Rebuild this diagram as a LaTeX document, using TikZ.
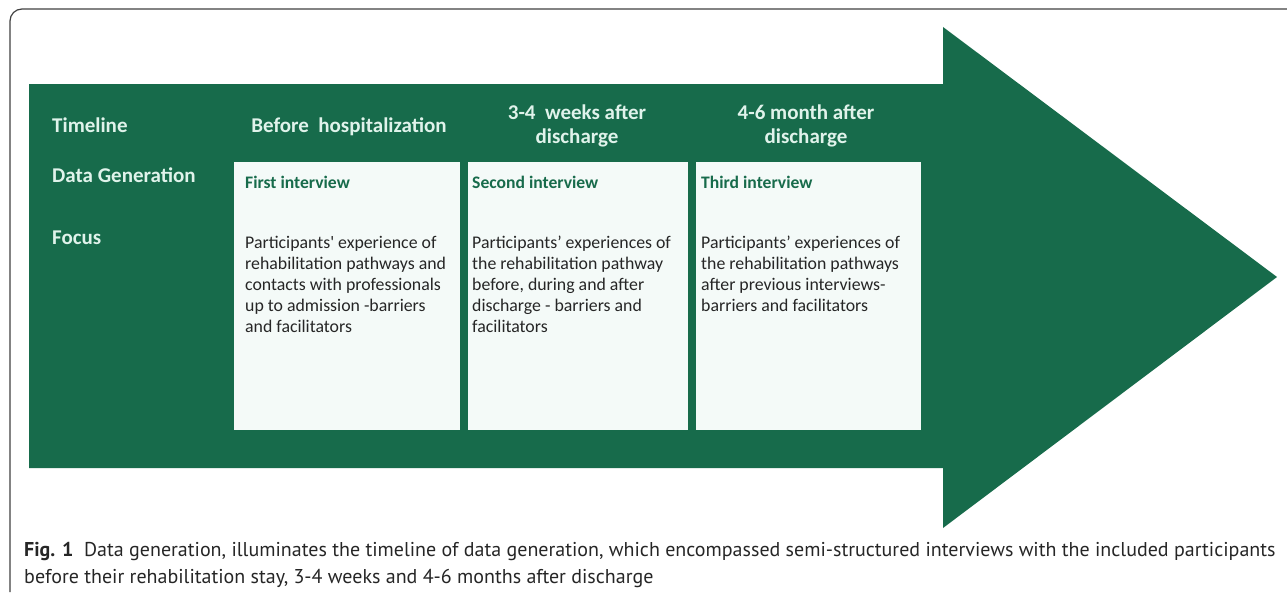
\documentclass[tikz,border=0pt]{standalone}
\usepackage{fontspec}
\setmainfont{Carlito}[Ligatures=TeXOff]
\newfontfamily\captionfont{PT Sans}
\definecolor{pathgreen}{RGB}{23,107,75}
\definecolor{boxfill}{RGB}{244,250,248}
\definecolor{labelmint}{RGB}{224,243,235}
\definecolor{bodygray}{RGB}{38,38,38}

\begin{document}
\begin{tikzpicture}[x=1pt,y=-1pt,
  rowlabel/.style={anchor=base west,inner sep=0pt,text=labelmint,font=\fontsize{21}{24}\selectfont\bfseries},
  colhead/.style={anchor=base,inner sep=0pt,align=center,text=labelmint,font=\fontsize{21}{24}\selectfont\bfseries},
  stagebox/.style={anchor=north west,fill=boxfill,draw=none,minimum width=#1,minimum height=268pt,inner sep=0pt},
  boxhead/.style={anchor=base west,inner sep=0pt,text=pathgreen,font=\fontsize{17.6}{21}\selectfont\bfseries},
  boxtext/.style={anchor=north west,inner sep=0pt,align=left,text=bodygray,font=\fontsize{17.8}{21}\selectfont}]
  \useasboundingbox (0,0) rectangle (1287,594);

  \draw[black!75,line width=1.2pt,rounded corners=12pt] (10,592) -- (10,9) -- (1295,9);

  \fill[pathgreen] (29,84) -- (943,84) -- (943,27) -- (1277,277)
    -- (943,528) -- (943,468) -- (29,468) -- cycle;

  \node[rowlabel] (timeline) at (52,132) {Timeline};
  \node[rowlabel] (datagen) at (52,182) {Data Generation};
  \node[rowlabel] (focus) at (52,244) {Focus};

  \node[colhead] (before) at (349,132) {Before~ hospitalization};
  \node[colhead] (weeks) at (577,143) {3-4~ weeks after\\discharge};
  \node[colhead] (months) at (806,143) {4-6 month after\\discharge};

  \node[stagebox=226pt] (first) at (234,162) {};
  \node[stagebox=220pt] (second) at (468,162) {};
  \node[stagebox=225pt] (third) at (696,162) {};

  \node[boxhead] (firsthead) at (245,188) {First interview};
  \node[boxhead] (secondhead) at (472,188) {Second interview};
  \node[boxhead] (thirdhead) at (701,188) {Third interview};

  \node[boxtext] (firsttext) at (245,236) {Participants' experience of\\rehabilitation pathways and\\contacts with professionals\\up to admission -barriers\\and facilitators};
  \node[boxtext] (secondtext) at (472,236) {Participants’ experiences of\\the rehabilitation pathway\\before, during and after\\discharge - barriers and\\facilitators};
  \node[boxtext] (thirdtext) at (701,236) {Participants’ experiences of\\the rehabilitation pathways\\after previous interviews-\\barriers and facilitators};

  \node[anchor=base west,inner sep=0pt,align=left,text=black!85,
    font=\captionfont\fontsize{20}{27}\selectfont] (caption) at (24,583)
    {\textbf{Fig. 1}\ \ Data generation, illuminates the timeline of data generation, which encompassed semi-structured interviews with the included participants\\before their rehabilitation stay, 3-4 weeks and 4-6 months after discharge};
\end{tikzpicture}
\end{document}
